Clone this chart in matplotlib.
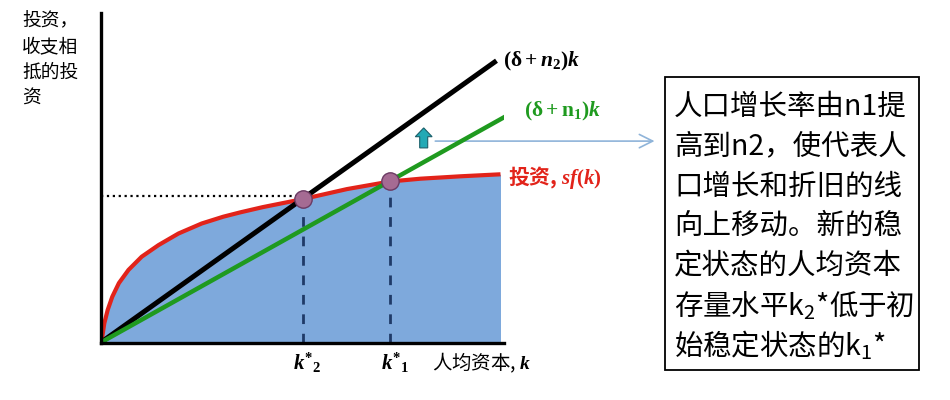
import matplotlib
matplotlib.use("Agg")
import matplotlib.pyplot as plt
from matplotlib.patches import Rectangle, FancyArrow

plt.rcParams['font.family'] = ['Noto Sans CJK SC', 'DejaVu Sans']
plt.rcParams['mathtext.fontset'] = 'custom'
plt.rcParams['mathtext.rm'] = 'Liberation Serif:bold'
plt.rcParams['mathtext.it'] = 'Liberation Serif:italic:bold'
plt.rcParams['mathtext.bf'] = 'Liberation Serif:bold'

# --- data (1 unit = 40 px) ---
# investment curve s*f(k)
k_invest = [0, 0.045, 0.095, 0.18, 0.295, 0.46, 0.7, 1.03, 1.45, 1.95, 2.53,
            3.07, 3.5, 4.06, 5.06, 6.16, 7.24, 8.0, 9.0, 10.0]
sf_invest = [0, 0.15, 0.485, 0.82, 1.15, 1.49, 1.82, 2.15, 2.44, 2.73, 2.98,
             3.15, 3.26, 3.39, 3.59, 3.84, 4.03, 4.10, 4.16, 4.21]

# break-even lines (delta + n)k, start and end
k_n2 = [0, 9.9]
y_n2 = [0, 7.05]
k_n1 = [0, 10.4]
y_n1 = [0, 5.81]

# steady states k2*, k1*
k_star = [5.06, 7.24]
y_star = [3.60, 4.04]
star_labels = [r"$k^{*}{}_{2}$", r"$k^{*}{}_{1}$"]

box_lines = ["人口增长率由n1提", "高到n2，使代表人", "口增长和折旧的线",
             "向上移动。新的稳", "定状态的人均资本",
             r"存量水平$\mathregular{k_2}$*低于初",
             r"始稳定状态的$\mathregular{k_1}$*"]

W, H = 950, 400
fig = plt.figure(figsize=(W / 100, H / 100), dpi=100)
x0, y0 = 100.5, 342.7
ax = fig.add_axes([x0 / W, 1 - y0 / H, 404 / W, 330 / H])
ax.set_xlim(0, 10.1)
ax.set_ylim(0, 8.25)
ax.set_xticks([])
ax.set_yticks([])
for s in ['top', 'right']:
    ax.spines[s].set_visible(False)
for s in ['left', 'bottom']:
    ax.spines[s].set_linewidth(2.4)
    ax.spines[s].set_zorder(6)

ax.fill_between(k_invest, 0, sf_invest, color='#7ea9dc', lw=0, zorder=1)
ax.plot(k_invest, sf_invest, color='#e2231a', lw=3, zorder=3,
        solid_capstyle='butt', solid_joinstyle='round')
ax.plot(k_n2, y_n2, color='black', lw=3.6, zorder=4, solid_capstyle='butt')
ax.plot(k_n1, y_n1, color='#1f9a1f', lw=3.2, zorder=4, solid_capstyle='butt')

ax.plot([0, k_star[0]], [y_star[0] + 0.06] * 2, color='black', lw=1.6, ls=':', zorder=2)
for k, y in zip(k_star, y_star):
    ax.plot([k, k], [0, y], color='#1f3a68', lw=2, ls=(0, (3.5, 3.5)), zorder=2)
ax.plot(k_star, y_star, 'o', ms=12.5, mfc='#a56b93', mec='#6b3a63', mew=1, zorder=5)

# curve labels
ax.text(10.07, 7.02, r"$(\mathrm{\delta} + n_2)k$", fontsize=15.5, color='black',
        va='center', clip_on=False)
ax.text(10.59, 5.77, r"$(\mathrm{\delta} + \mathrm{n}_1)k$", fontsize=15.5,
        color='#1f9a1f', va='center', clip_on=False)
ax.text(10.19, 4.12, r"投资, $sf(k)$", fontsize=15, color='#e2231a', va='center',
        weight='bold', clip_on=False)

for k, lab in zip(k_star, star_labels):
    ax.text(k + 0.12, -0.5, lab, fontsize=15, ha='center', va='center', clip_on=False)
ax.text(8.29, -0.5, r"人均资本, $k$", fontsize=14, ha='left', va='center', clip_on=False)

# shift arrow and pointer to the note
ax.add_patch(FancyArrow(8.08, 4.87, 0, 0.28, width=0.2, head_width=0.42,
                        head_length=0.22, length_includes_head=False,
                        fc='#22a9b5', ec='#1a5f6a', lw=0.8, zorder=6, clip_on=False))
ax.annotate("", xy=(13.92, 5.04), xytext=(8.3, 5.04),
            arrowprops=dict(arrowstyle='->', color='#8fb4d9', lw=1.2,
                            mutation_scale=24),
            annotation_clip=False)

fig.text(22 / W, 1 - 10 / H, "投资，\n收支相\n抵的投\n资", fontsize=13.5,
         va='top', ha='left', linespacing=1.3)

fig.patches.append(Rectangle((665 / W, 1 - 370 / H), 254 / W, 293 / H,
                             transform=fig.transFigure, fill=False,
                             ec='black', lw=1.3))
for i, line in enumerate(box_lines):
    fig.text(674 / W, 1 - (107 + i * 39.7) / H, line, fontsize=20.5,
             va='center', ha='left')

fig.savefig("out.png", dpi=100)
